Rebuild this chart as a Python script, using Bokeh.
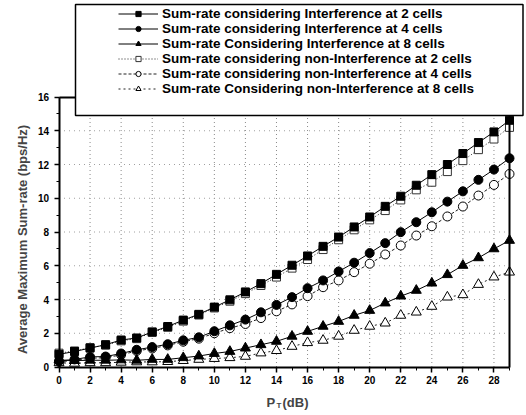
import math
from bokeh.plotting import figure
from bokeh.models import Legend, LegendItem, BoxAnnotation, Label, Range1d, FixedTicker, LinearAxis
from bokeh.embed import file_html
from bokeh.resources import INLINE

# ---- data ----
p_t_db = list(range(30))

inter_2 = [0.75, 0.92, 1.12, 1.32, 1.60, 1.72, 2.08, 2.40, 2.78, 3.12,
           3.55, 3.98, 4.45, 4.94, 5.49, 6.03, 6.58, 7.15, 7.70, 8.30,
           8.89, 9.52, 10.12, 10.77, 11.40, 12.00, 12.65, 13.30, 13.93, 14.62]
inter_4 = [0.35, 0.45, 0.60, 0.62, 0.80, 1.02, 1.18, 1.35, 1.58, 1.76,
           2.12, 2.47, 2.81, 3.24, 3.68, 4.14, 4.67, 5.13, 5.66, 6.18,
           6.75, 7.34, 7.99, 8.58, 9.17, 9.80, 10.41, 11.09, 11.70, 12.37]
inter_8 = [0.42, 0.38, 0.40, 0.40, 0.42, 0.40, 0.45, 0.45, 0.55, 0.65,
           0.80, 0.92, 1.12, 1.32, 1.52, 1.82, 2.11, 2.41, 2.70, 3.06,
           3.35, 3.79, 4.20, 4.54, 4.97, 5.47, 6.02, 6.47, 7.00, 7.50]
noint_2 = [0.82, 0.95, 1.15, 1.30, 1.55, 1.68, 2.05, 2.35, 2.72, 3.08,
           3.50, 3.90, 4.35, 4.83, 5.33, 5.86, 6.37, 6.96, 7.54, 8.13,
           8.72, 9.27, 9.90, 10.50, 10.95, 11.58, 12.23, 12.88, 13.51, 14.20]
noint_4 = [0.30, 0.40, 0.52, 0.55, 0.72, 0.95, 1.10, 1.28, 1.50, 1.68,
           2.00, 2.30, 2.55, 2.90, 3.30, 3.71, 4.20, 4.73, 5.13, 5.62,
           6.12, 6.67, 7.20, 7.79, 8.34, 8.92, 9.51, 10.16, 10.79, 11.44]
noint_8 = [0.25, 0.22, 0.25, 0.25, 0.28, 0.30, 0.30, 0.32, 0.38, 0.45,
           0.50, 0.55, 0.63, 0.83, 0.97, 1.22, 1.44, 1.58, 1.82, 2.17,
           2.41, 2.60, 3.06, 3.25, 3.59, 4.14, 4.28, 4.89, 5.33, 5.62]

labels = [
    "Sum-rate considering Interference at 2 cells",
    "Sum-rate considering Interference at 4 cells",
    "Sum-rate Considering Interference at 8 cells",
    "Sum-rate considering non-Interference at 2 cells",
    "Sum-rate considering non-Interference at 4 cells",
    "Sum-rate Considering non-Interference at 8 cells",
]
y_title = "Average Maximum Sum-rate (bps/Hz)"
x_ticks = list(range(0, 30, 2))
y_ticks = list(range(0, 17, 2))
x_minor = list(range(0, 30))
y_minor = list(range(0, 17))
X_MAX = 29
Y_MAX = 16

FONT = "Liberation Sans"

# The frame fills the whole canvas; axes are pinned at data positions so
# that the legend and the x title (which lie outside the data box) are not clipped.
W, H = 524, 413
ORIG_X, ORIG_Y = 58.5, 366.5          # canvas pixel of the data origin
PX_X = (509 - ORIG_X) / X_MAX         # pixels per dB
PX_Y = (ORIG_Y - 96.5) / Y_MAX        # pixels per bps/Hz


def sx(px):
    return (px - ORIG_X) / PX_X


def sy(py):
    return (ORIG_Y - py) / PX_Y


p = figure(width=W, height=H, output_backend="svg", toolbar_location=None,
           x_range=Range1d(sx(0), sx(W)), y_range=Range1d(sy(H), sy(0)),
           min_border_left=0, min_border_right=0,
           min_border_top=0, min_border_bottom=0)

p.background_fill_color = "white"
p.border_fill_color = "white"
p.outline_line_color = None
p.grid.visible = False

p.xaxis.fixed_location = 0
p.xaxis.bounds = (0, X_MAX)
p.yaxis.fixed_location = 0
p.yaxis.bounds = (0, Y_MAX)

for ax in (p.xaxis[0], p.yaxis[0]):
    ax.axis_line_width = 2
    ax.major_tick_line_width = 1.5
    ax.minor_tick_line_width = 1
    ax.major_tick_out = 5
    ax.major_tick_in = 0
    ax.minor_tick_out = 3
    ax.minor_tick_in = 0
    ax.major_label_text_font = FONT
    ax.major_label_text_font_style = "bold"
    ax.major_label_text_font_size = "10px"
    ax.major_label_text_color = "black"

p.xaxis.ticker = FixedTicker(ticks=x_ticks, minor_ticks=x_minor)
p.yaxis.ticker = FixedTicker(ticks=y_ticks, minor_ticks=y_minor)
p.xaxis.major_label_standoff = 4
p.yaxis.major_label_standoff = 5

# top and right frame lines as tick-less axes
top_axis = LinearAxis(fixed_location=Y_MAX, bounds=(0, X_MAX), ticker=FixedTicker(ticks=[]),
                      axis_line_width=2, major_tick_line_color=None, minor_tick_line_color=None,
                      major_label_text_alpha=0)
right_axis = LinearAxis(fixed_location=X_MAX, bounds=(0, Y_MAX), ticker=FixedTicker(ticks=[]),
                        axis_line_width=2, major_tick_line_color=None, minor_tick_line_color=None,
                        major_label_text_alpha=0)
p.add_layout(top_axis, "above")
p.add_layout(right_axis, "right")

# dotted grid at the major ticks, inside the data box
gx = x_ticks[1:]
p.segment(x0=gx, y0=[0] * len(gx), x1=gx, y1=[Y_MAX] * len(gx),
          line_color="#8a8a8a", line_dash="1 3", line_width=1)
gy = y_ticks[1:-1]
p.segment(x0=[0] * len(gy), y0=gy, x1=[X_MAX] * len(gy), y1=gy,
          line_color="#a0a0a0", line_dash="1 4", line_width=1)

# non-interference first so that filled markers sit on top
r_n2l = p.line(p_t_db, noint_2, line_color="#222222", line_width=1, line_dash="1 2")
r_n2m = p.scatter(p_t_db, noint_2, marker="square", size=8, fill_color="white",
                  line_color="#333333", line_width=1)
r_n4l = p.line(p_t_db, noint_4, line_color="#222222", line_width=1, line_dash="3 2")
r_n4m = p.scatter(p_t_db, noint_4, marker="circle", size=9, fill_color="white",
                  line_color="black", line_width=1)
r_n8l = p.line(p_t_db, noint_8, line_color="#222222", line_width=1, line_dash="2 3")
r_n8m = p.scatter(p_t_db, noint_8, marker="triangle", size=10, fill_color="white",
                  line_color="black", line_width=1)

r_i2l = p.line(p_t_db, inter_2, line_color="black", line_width=1)
r_i2m = p.scatter(p_t_db, inter_2, marker="square", size=8, fill_color="black",
                  line_color="black")
r_i4l = p.line(p_t_db, inter_4, line_color="black", line_width=1)
r_i4m = p.scatter(p_t_db, inter_4, marker="circle", size=9, fill_color="black",
                  line_color="black")
r_i8l = p.line(p_t_db, inter_8, line_color="black", line_width=1)
r_i8m = p.scatter(p_t_db, inter_8, marker="triangle", size=10, fill_color="black",
                  line_color="black")

# legend frame
box = BoxAnnotation(left=sx(75), right=sx(522.5), top=sy(4), bottom=sy(115),
                    fill_color="white", fill_alpha=1.0,
                    line_color="black", line_width=1.5, line_alpha=1.0)
p.add_layout(box)

legend = Legend(items=[
    LegendItem(label=labels[0], renderers=[r_i2l, r_i2m]),
    LegendItem(label=labels[1], renderers=[r_i4l, r_i4m]),
    LegendItem(label=labels[2], renderers=[r_i8l, r_i8m]),
    LegendItem(label=labels[3], renderers=[r_n2l, r_n2m]),
    LegendItem(label=labels[4], renderers=[r_n4l, r_n4m]),
    LegendItem(label=labels[5], renderers=[r_n8l, r_n8m]),
], location=(118, H - 95.5), padding=0, margin=0, spacing=0,
    glyph_width=40, glyph_height=13, label_height=13, label_standoff=4,
    label_text_font=FONT, label_text_font_style="bold",
    label_text_font_size="13.5px", label_text_color="black",
    border_line_alpha=0, background_fill_alpha=0)
p.add_layout(legend, "center")

# y-axis title
p.add_layout(Label(x=sx(22), y=sy(239), text=y_title, angle=math.pi / 2,
                   text_align="center", text_baseline="middle",
                   text_font=FONT, text_font_style="bold", text_font_size="13px"))

# x-axis title with subscript
p.add_layout(Label(x=sx(266), y=sy(402), text="P", text_font=FONT, text_font_style="bold",
                   text_font_size="13px", text_baseline="alphabetic"))
p.add_layout(Label(x=sx(276), y=sy(405), text="T", text_font=FONT, text_font_style="bold",
                   text_font_size="8px", text_baseline="alphabetic"))
p.add_layout(Label(x=sx(282), y=sy(402), text="(dB)", text_font=FONT, text_font_style="bold",
                   text_font_size="13px", text_baseline="alphabetic"))

open("out.html", "w").write(file_html(p, INLINE))
